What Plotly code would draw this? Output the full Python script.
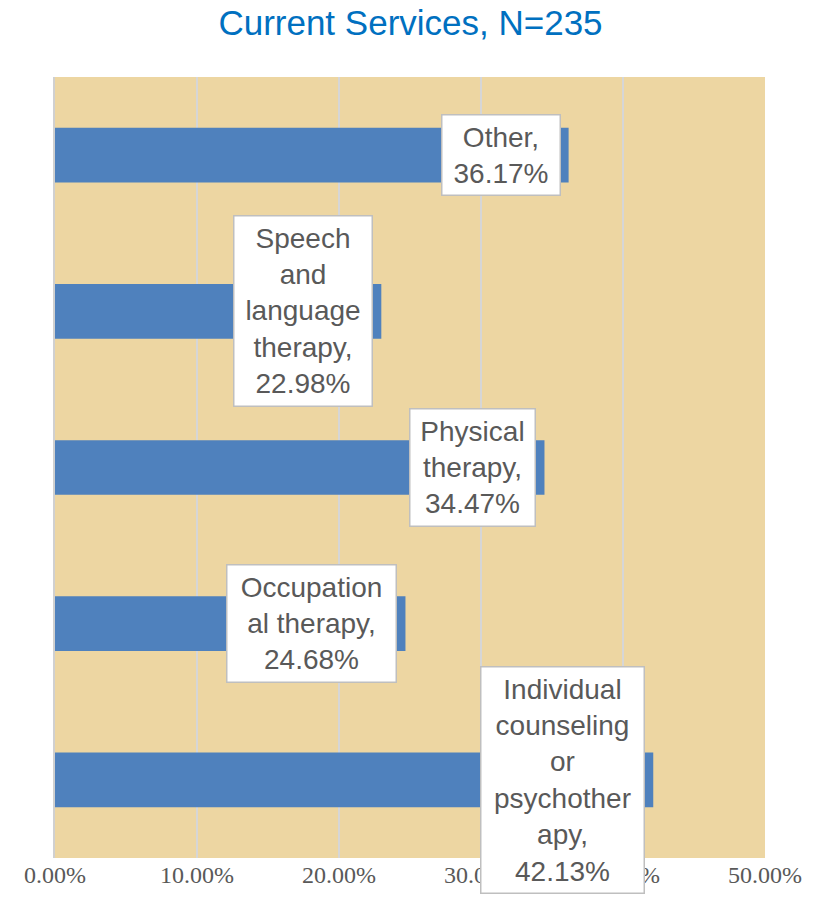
import plotly.graph_objects as go

categories = ["Individual counseling or psychotherapy", "Occupational therapy",
              "Physical therapy", "Speech and language therapy", "Other"]
values = [42.13, 24.68, 34.47, 22.98, 36.17]
label_texts = ["Individual<br>counseling<br>or<br>psychother<br>apy,<br>42.13%",
               "Occupation<br>al therapy,<br>24.68%",
               "Physical<br>therapy,<br>34.47%",
               "Speech<br>and<br>language<br>therapy,<br>22.98%",
               "Other,<br>36.17%"]
tick_vals = [0, 10, 20, 30, 40, 50]
tick_text = ["0.00%", "10.00%", "20.00%", "30.00%", "40.00%", "50.00%"]

# style: inner widths of the label boxes (px)
label_box_widths = [150, 156, 112, 125, 105]

fig = go.Figure()
fig.add_trace(go.Bar(
    x=values, y=categories, orientation="h",
    marker=dict(color="#4F81BD", line=dict(width=0)),
    width=0.35, hoverinfo="skip"))

for c, v, t, w in zip(categories, values, label_texts, label_box_widths):
    fig.add_annotation(
        x=v, y=c, xref="x", yref="y", text=t, showarrow=False,
        xanchor="right", yanchor="middle", xshift=-8, align="center", width=w,
        font=dict(family="Liberation Sans, Arial, sans-serif", size=28, color="#595959"),
        bgcolor="#FFFFFF", bordercolor="#BFBFBF", borderwidth=1.5, borderpad=6)

fig.update_layout(
    width=821, height=910,
    margin=dict(l=55, r=56, t=77, b=52, autoexpand=False),
    paper_bgcolor="#FFFFFF", plot_bgcolor="#EDD6A2",
    showlegend=False,
    title=dict(text="Current Services, N=235", x=0.5, xanchor="center",
               y=0.975, yanchor="middle",
               font=dict(family="Liberation Sans Narrow, Liberation Sans, Arial, sans-serif",
                         size=35, color="#0070C0")),
    xaxis=dict(range=[0, 50], tickvals=tick_vals, ticktext=tick_text,
               showgrid=True, gridcolor="#D6D6D6", gridwidth=2,
               zeroline=False, showline=False, ticks="", automargin=False,
               tickfont=dict(family="Liberation Serif, Times New Roman, serif",
                             size=24, color="#595959")),
    yaxis=dict(showticklabels=False, showgrid=False, zeroline=False,
               showline=True, linecolor="#D0D0D0", linewidth=2, automargin=False,
               range=[-0.5, 4.5], ticks=""),
)

fig.write_html("out.html", config={"displayModeBar": False},
               post_script="document.body.style.margin='0';document.body.style.overflow='hidden';")
